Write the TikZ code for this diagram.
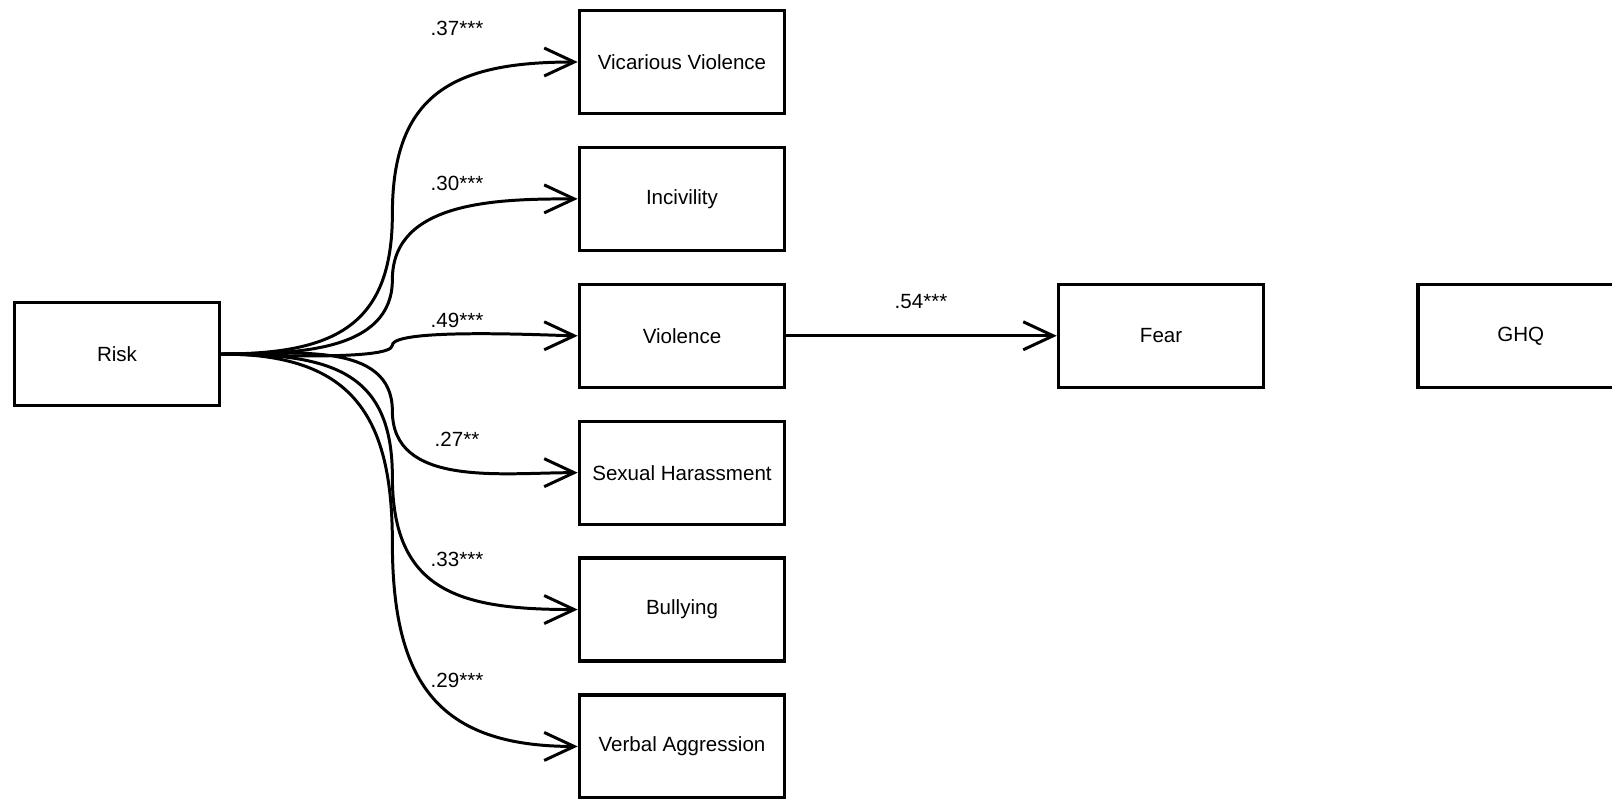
\documentclass[tikz,border=0pt]{standalone}
\usepackage{fontspec}
\setmainfont{Liberation Sans}
\usetikzlibrary{positioning,arrows.meta,calc}

\begin{document}
\begin{tikzpicture}[
  x=0.02cm, y=0.02cm,
  node distance=0.615cm and 5.41cm,
  var/.style={rectangle, draw, line width=1.8pt, minimum width=4.11cm, minimum height=2.06cm, align=center, font=\fontsize{11.7}{14}\selectfont},
  coef/.style={font=\fontsize{11.7}{14}\selectfont},
  arr/.style={-{Straight Barb[length=6mm, width=5.6mm]}, line width=1.7pt}]
\useasboundingbox (0,0) rectangle (1612,-798);
\node[var] (risk) at (117,-354) {Risk};
\node[var] (vic) at (682,-62) {Vicarious Violence};
\node[var, below=of vic] (inc) {Incivility};
\node[var, below=of inc] (viol) {Violence};
\node[var, below=of viol] (sex) {Sexual Harassment};
\node[var, below=of sex] (bul) {Bullying};
\node[var, below=of bul] (verb) {Verbal Aggression};
\node[var, right=of viol] (fear) {Fear};
\node[var, right=3.02cm of fear] (ghq) {GHQ};
\foreach \t/\u/\d/\l in {vic/-90/90/1.3, inc/-90/90/1, viol/-90/90/0.25, sex/90/-90/1, bul/90/-90/1.3, verb/90/-90/1.3}
  \draw[arr] (risk.east) to[out=0, in=\u, looseness=\l] ($(risk.east)!0.48!(\t.west)$) to[out=\d, in=180, looseness=\l] (\t.west);
\draw[arr] (viol) -- (fear);
\node[coef] (cvic) at (457,-28) {.37***};
\node[coef] (cinc) at (457,-183) {.30***};
\node[coef] (cviol) at (457,-320) {.49***};
\node[coef] (csex) at (457,-439) {.27**};
\node[coef] (cbul) at (457,-559) {.33***};
\node[coef] (cverb) at (457,-680) {.29***};
\node[coef] (cfear) at (921,-302) {.54***};
\end{tikzpicture}
\end{document}
